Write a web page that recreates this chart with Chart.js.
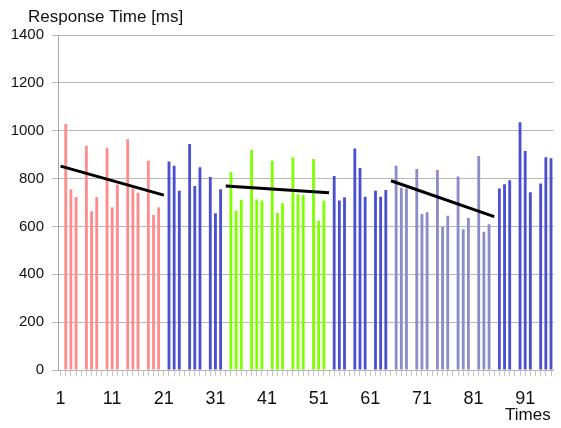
<!DOCTYPE html>
<html>
<head>
<meta charset="utf-8">
<script src="https://cdn.jsdelivr.net/npm/chart.js@4/dist/chart.umd.min.js"></script>
<style>
  html, body { margin: 0; padding: 0; background: #fff; overflow: hidden; }
  #wrap { position: relative; width: 563px; height: 428px; }
</style>
</head>
<body>
<div id="wrap"><canvas id="chart" width="563" height="428"></canvas></div>
<script>
// Request index along the run (every fourth slot carries no sample)
const runCount = 96;

// Response time per request, ms (null = no sample in that slot)
const responseMs = [
  null, 1028, 755, 723,  null, 936, 663, 723,  null, 929, 680, 775,
  null, 964, 758, 741,   null, 875, 648, 680,  null, 871, 854, 749,
  null, 944, 769, 847,   null, 807, 655, 755,  null, 827, 666, 710,
  null, 919, 713, 708,   null, 875, 656, 697,  null, 889, 734, 731,
  null, 882, 624, 708,   null, 811, 708, 722,  null, 926, 844, 724,
  null, 749, 724, 752,   null, 854, 762, 758,  null, 840, 652, 659,
  null, 836, 599, 645,   null, 809, 588, 635,  null, 894, 578, 609,
  null, 759, 776, 793,   null, 1035, 915, 743, null, 779, 889, 885
];

// Test phases: first and last request index of each
const phaseNames = ['cold',  'idle-1', 'warm',  'idle-2', 'cached', 'idle-3'];
const phaseFirst = [1,       21,       33,      53,       65,       85];
const phaseLast  = [20,      32,       52,      64,       84,       96];

// Linear trend over the loaded phases: start/end request and value
const trendFromRun = [1,   33,  65];
const trendToRun   = [21,  53,  85];
const trendFromMs  = [852, 769, 791];
const trendToMs    = [731, 741, 641];

// Y-axis ticks
const yTicks = [0, 200, 400, 600, 800, 1000, 1200, 1400];

const phaseColor = {
  'cold':   '#ff8c8c',
  'idle-1': '#4a50d0',
  'warm':   '#80ff00',
  'idle-2': '#4a50d0',
  'cached': '#8c8cc8',
  'idle-3': '#4a50d0'
};

const labels = [];
for (let i = 1; i <= runCount; i++) labels.push(String(i));

function barColor(index) {
  const run = index + 1;
  for (let p = 0; p < phaseNames.length; p++) {
    if (run >= phaseFirst[p] && run <= phaseLast[p]) return phaseColor[phaseNames[p]];
  }
  return '#4a50d0';
}

const datasets = [{
  type: 'bar',
  label: 'Response time',
  data: responseMs,
  backgroundColor: responseMs.map((v, i) => barColor(i)),
  borderWidth: 0,
  barPercentage: 0.55,
  categoryPercentage: 1,
  order: 2
}];

trendFromRun.forEach((from, i) => {
  datasets.push({
    type: 'line',
    label: 'Trend ' + (i + 1),
    data: [
      { x: String(from), y: trendFromMs[i] },
      { x: String(trendToRun[i]), y: trendToMs[i] }
    ],
    borderColor: '#000',
    borderWidth: 3,
    pointRadius: 0,
    tension: 0,
    fill: false,
    order: 0
  });
});

// Axis captions: value label above the y axis, run label under the x axis
const captions = {
  id: 'captions',
  afterDraw(chart) {
    const { ctx, chartArea } = chart;
    ctx.save();
    ctx.fillStyle = '#111';
    ctx.font = '17px "Liberation Sans", Arial, sans-serif';
    ctx.textAlign = 'left';
    ctx.textBaseline = 'alphabetic';
    ctx.fillText('Response Time [ms]', chartArea.left - 30, chartArea.top - 13);
    ctx.fillText('Times', 505, 420);
    ctx.restore();
  }
};

new Chart(document.getElementById('chart'), {
  data: { labels, datasets },
  options: {
    responsive: false,
    animation: false,
    devicePixelRatio: 1,
    layout: { padding: { top: 35, right: 0, bottom: 0, left: 0 } },
    plugins: {
      legend: { display: false },
      tooltip: { enabled: false }
    },
    scales: {
      x: {
        type: 'category',
        offset: true,
        afterFit(scale) { scale.height = 58; },
        grid: {
          display: true,
          drawOnChartArea: false,
          drawTicks: true,
          tickLength: 6,
          color: '#c4c4c4',
          offset: false
        },
        border: { display: true, color: '#b4b4b4', width: 1 },
        ticks: {
          autoSkip: false,
          maxRotation: 0,
          padding: 12,
          color: '#111',
          font: { family: '"Liberation Sans Narrow", "Liberation Sans", Arial, sans-serif', size: 18 },
          callback(value, index) {
            return index % 10 === 0 ? labels[index] : '';
          }
        }
      },
      y: {
        min: 0,
        max: 1400,
        afterFit(scale) { scale.width = 58; },
        afterBuildTicks(scale) { scale.ticks = yTicks.map(v => ({ value: v })); },
        grid: {
          color: '#b8b8b8',
          tickLength: 6,
          lineWidth: 1
        },
        border: { display: true, color: '#a8a8a8', width: 1 },
        ticks: {
          padding: 8,
          color: '#111',
          font: { family: '"Liberation Sans", Arial, sans-serif', size: 15 },
          callback(value) { return String(value); }
        }
      }
    }
  },
  plugins: [captions]
});
</script>
</body>
</html>
